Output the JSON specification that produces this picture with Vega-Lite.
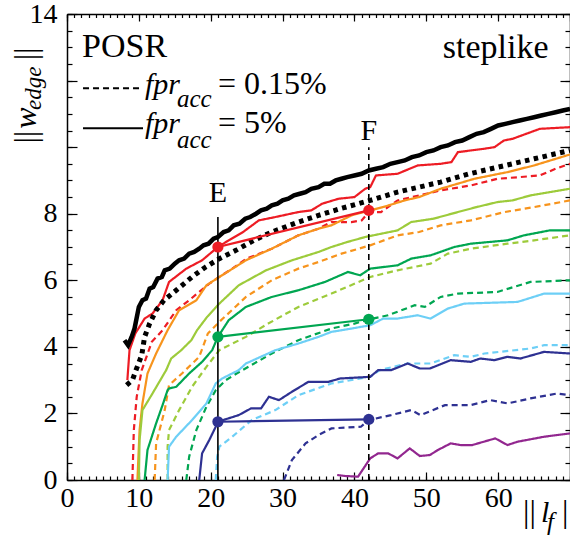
{
  "$schema": "https://vega.github.io/schema/vega-lite/v6.json",
  "width": 503,
  "height": 466,
  "autosize": {"type": "none"},
  "padding": {"left": 67, "top": 14, "right": 0, "bottom": 57},
  "background": "white",
  "config": {
    "view": {"stroke": null},
    "axis": {"domainColor": "black", "domainWidth": 1.5, "tickColor": "black", "tickWidth": 1.2, "labelFont": "Liberation Serif, DejaVu Serif, serif", "labelFontSize": 28, "labelColor": "black", "grid": false},
    "text": {"font": "Liberation Serif, DejaVu Serif, serif", "color": "black"}
  },
  "datasets": {
    "series": [
      {"g":"c1","f":"5%","x":8.4,"y":3.0},{"g":"c1","f":"5%","x":8.7,"y":3.9},{"g":"c1","f":"5%","x":9.5,"y":4.4},{"g":"c1","f":"5%","x":10.8,"y":4.85},{"g":"c1","f":"5%","x":11.9,"y":5.0},{"g":"c1","f":"5%","x":13.3,"y":5.4},{"g":"c1","f":"5%","x":14.2,"y":5.95},{"g":"c1","f":"5%","x":16.6,"y":6.35},{"g":"c1","f":"5%","x":18.8,"y":6.6},{"g":"c1","f":"5%","x":21,"y":7.0},{"g":"c1","f":"5%","x":22.5,"y":7.2},{"g":"c1","f":"5%","x":24.5,"y":7.45},{"g":"c1","f":"5%","x":26.7,"y":7.8},{"g":"c1","f":"5%","x":29,"y":7.9},{"g":"c1","f":"5%","x":32.2,"y":8.05},{"g":"c1","f":"5%","x":34,"y":8.1},{"g":"c1","f":"5%","x":35.5,"y":8.3},{"g":"c1","f":"5%","x":37.8,"y":8.45},{"g":"c1","f":"5%","x":40,"y":8.5},{"g":"c1","f":"5%","x":41.5,"y":8.75},{"g":"c1","f":"5%","x":42.2,"y":8.8},{"g":"c1","f":"5%","x":43,"y":9.15},{"g":"c1","f":"5%","x":46,"y":9.2},{"g":"c1","f":"5%","x":48.8,"y":9.45},{"g":"c1","f":"5%","x":52,"y":9.5},{"g":"c1","f":"5%","x":53.5,"y":9.55},{"g":"c1","f":"5%","x":54.4,"y":9.85},{"g":"c1","f":"5%","x":58,"y":9.95},{"g":"c1","f":"5%","x":59.5,"y":10.0},{"g":"c1","f":"5%","x":60.8,"y":10.2},{"g":"c1","f":"5%","x":62,"y":10.25},{"g":"c1","f":"5%","x":65.8,"y":10.55},{"g":"c1","f":"5%","x":70,"y":10.6},
      {"g":"c1","f":"0.15%","x":9.1,"y":0},{"g":"c1","f":"0.15%","x":9.3,"y":1.5},{"g":"c1","f":"0.15%","x":9.7,"y":2.5},{"g":"c1","f":"0.15%","x":10.4,"y":3.3},{"g":"c1","f":"0.15%","x":11.8,"y":4.15},{"g":"c1","f":"0.15%","x":13.3,"y":4.5},{"g":"c1","f":"0.15%","x":15.2,"y":5.1},{"g":"c1","f":"0.15%","x":17,"y":5.4},{"g":"c1","f":"0.15%","x":19.8,"y":5.9},{"g":"c1","f":"0.15%","x":21.2,"y":6.1},{"g":"c1","f":"0.15%","x":23,"y":6.35},{"g":"c1","f":"0.15%","x":25,"y":6.65},{"g":"c1","f":"0.15%","x":28.5,"y":6.95},{"g":"c1","f":"0.15%","x":32.2,"y":7.35},{"g":"c1","f":"0.15%","x":35,"y":7.55},{"g":"c1","f":"0.15%","x":36.8,"y":7.75},{"g":"c1","f":"0.15%","x":39.6,"y":7.75},{"g":"c1","f":"0.15%","x":41,"y":7.8},{"g":"c1","f":"0.15%","x":42,"y":8.05},{"g":"c1","f":"0.15%","x":43.7,"y":8.05},{"g":"c1","f":"0.15%","x":46,"y":8.4},{"g":"c1","f":"0.15%","x":49,"y":8.55},{"g":"c1","f":"0.15%","x":52,"y":8.7},{"g":"c1","f":"0.15%","x":56.2,"y":8.85},{"g":"c1","f":"0.15%","x":59.9,"y":9.05},{"g":"c1","f":"0.15%","x":63,"y":9.1},{"g":"c1","f":"0.15%","x":65.8,"y":9.15},{"g":"c1","f":"0.15%","x":68,"y":9.35},{"g":"c1","f":"0.15%","x":70,"y":9.5},
      {"g":"c2","f":"5%","x":9.8,"y":0},{"g":"c2","f":"5%","x":10.1,"y":1.5},{"g":"c2","f":"5%","x":10.5,"y":2.3},{"g":"c2","f":"5%","x":11.2,"y":3.2},{"g":"c2","f":"5%","x":12.4,"y":3.8},{"g":"c2","f":"5%","x":14,"y":4.5},{"g":"c2","f":"5%","x":15.6,"y":5.1},{"g":"c2","f":"5%","x":18,"y":5.4},{"g":"c2","f":"5%","x":19.4,"y":5.85},{"g":"c2","f":"5%","x":21.2,"y":6.1},{"g":"c2","f":"5%","x":24.9,"y":6.6},{"g":"c2","f":"5%","x":28.5,"y":6.95},{"g":"c2","f":"5%","x":32.2,"y":7.35},{"g":"c2","f":"5%","x":35,"y":7.55},{"g":"c2","f":"5%","x":36.8,"y":7.65},{"g":"c2","f":"5%","x":39.6,"y":7.95},{"g":"c2","f":"5%","x":42.2,"y":8.1},{"g":"c2","f":"5%","x":44,"y":8.2},{"g":"c2","f":"5%","x":47,"y":8.4},{"g":"c2","f":"5%","x":49,"y":8.5},{"g":"c2","f":"5%","x":52,"y":8.75},{"g":"c2","f":"5%","x":56.7,"y":9.05},{"g":"c2","f":"5%","x":61.3,"y":9.25},{"g":"c2","f":"5%","x":65,"y":9.45},{"g":"c2","f":"5%","x":70,"y":9.78},
      {"g":"c2","f":"0.15%","x":12.2,"y":0},{"g":"c2","f":"0.15%","x":12.4,"y":1.1},{"g":"c2","f":"0.15%","x":13.6,"y":2.1},{"g":"c2","f":"0.15%","x":14.2,"y":2.85},{"g":"c2","f":"0.15%","x":16,"y":3.2},{"g":"c2","f":"0.15%","x":18.4,"y":3.7},{"g":"c2","f":"0.15%","x":19.6,"y":4.4},{"g":"c2","f":"0.15%","x":21.2,"y":4.75},{"g":"c2","f":"0.15%","x":24.9,"y":5.5},{"g":"c2","f":"0.15%","x":28.5,"y":6.0},{"g":"c2","f":"0.15%","x":32.2,"y":6.35},{"g":"c2","f":"0.15%","x":35,"y":6.55},{"g":"c2","f":"0.15%","x":38.2,"y":6.8},{"g":"c2","f":"0.15%","x":42.2,"y":7.05},{"g":"c2","f":"0.15%","x":46,"y":7.35},{"g":"c2","f":"0.15%","x":49,"y":7.45},{"g":"c2","f":"0.15%","x":52,"y":7.65},{"g":"c2","f":"0.15%","x":56.2,"y":7.8},{"g":"c2","f":"0.15%","x":60.9,"y":8.05},{"g":"c2","f":"0.15%","x":65,"y":8.2},{"g":"c2","f":"0.15%","x":70,"y":8.4},
      {"g":"c3","f":"5%","x":10,"y":0},{"g":"c3","f":"5%","x":10.1,"y":1.2},{"g":"c3","f":"5%","x":10.5,"y":2.1},{"g":"c3","f":"5%","x":11.9,"y":2.6},{"g":"c3","f":"5%","x":13.8,"y":3.3},{"g":"c3","f":"5%","x":14.5,"y":3.65},{"g":"c3","f":"5%","x":15.9,"y":3.9},{"g":"c3","f":"5%","x":17.3,"y":4.2},{"g":"c3","f":"5%","x":18.1,"y":4.5},{"g":"c3","f":"5%","x":19.5,"y":4.9},{"g":"c3","f":"5%","x":21.2,"y":5.3},{"g":"c3","f":"5%","x":23.9,"y":5.85},{"g":"c3","f":"5%","x":27.7,"y":6.3},{"g":"c3","f":"5%","x":31.3,"y":6.6},{"g":"c3","f":"5%","x":35,"y":6.85},{"g":"c3","f":"5%","x":36.8,"y":7.0},{"g":"c3","f":"5%","x":39,"y":7.15},{"g":"c3","f":"5%","x":41.5,"y":7.3},{"g":"c3","f":"5%","x":46,"y":7.5},{"g":"c3","f":"5%","x":47.9,"y":7.75},{"g":"c3","f":"5%","x":51,"y":7.85},{"g":"c3","f":"5%","x":54.4,"y":8.05},{"g":"c3","f":"5%","x":57,"y":8.2},{"g":"c3","f":"5%","x":59.9,"y":8.35},{"g":"c3","f":"5%","x":62,"y":8.4},{"g":"c3","f":"5%","x":64.5,"y":8.55},{"g":"c3","f":"5%","x":70,"y":8.75},
      {"g":"c3","f":"0.15%","x":14,"y":0},{"g":"c3","f":"0.15%","x":14,"y":1.0},{"g":"c3","f":"0.15%","x":14.2,"y":1.5},{"g":"c3","f":"0.15%","x":15.6,"y":2.1},{"g":"c3","f":"0.15%","x":17.4,"y":2.8},{"g":"c3","f":"0.15%","x":19.4,"y":3.4},{"g":"c3","f":"0.15%","x":21.2,"y":3.9},{"g":"c3","f":"0.15%","x":24.9,"y":4.3},{"g":"c3","f":"0.15%","x":28,"y":4.7},{"g":"c3","f":"0.15%","x":32.2,"y":5.2},{"g":"c3","f":"0.15%","x":36.8,"y":5.6},{"g":"c3","f":"0.15%","x":42.2,"y":6.1},{"g":"c3","f":"0.15%","x":46,"y":6.3},{"g":"c3","f":"0.15%","x":50.6,"y":6.5},{"g":"c3","f":"0.15%","x":53,"y":6.8},{"g":"c3","f":"0.15%","x":56.2,"y":6.95},{"g":"c3","f":"0.15%","x":61.3,"y":7.1},{"g":"c3","f":"0.15%","x":65,"y":7.2},{"g":"c3","f":"0.15%","x":70,"y":7.35},
      {"g":"c4","f":"5%","x":10.8,"y":0},{"g":"c4","f":"5%","x":11.2,"y":0.9},{"g":"c4","f":"5%","x":12.4,"y":1.7},{"g":"c4","f":"5%","x":13.3,"y":2.25},{"g":"c4","f":"5%","x":14,"y":2.7},{"g":"c4","f":"5%","x":14.2,"y":2.75},{"g":"c4","f":"5%","x":15.2,"y":2.8},{"g":"c4","f":"5%","x":17,"y":3.2},{"g":"c4","f":"5%","x":18.8,"y":3.55},{"g":"c4","f":"5%","x":20.2,"y":3.9},{"g":"c4","f":"5%","x":21,"y":4.3},{"g":"c4","f":"5%","x":22.5,"y":4.8},{"g":"c4","f":"5%","x":24.9,"y":5.2},{"g":"c4","f":"5%","x":28.5,"y":5.5},{"g":"c4","f":"5%","x":32.2,"y":5.7},{"g":"c4","f":"5%","x":35.9,"y":5.95},{"g":"c4","f":"5%","x":39.1,"y":6.25},{"g":"c4","f":"5%","x":40.8,"y":6.15},{"g":"c4","f":"5%","x":42.2,"y":6.35},{"g":"c4","f":"5%","x":46,"y":6.45},{"g":"c4","f":"5%","x":47.9,"y":6.65},{"g":"c4","f":"5%","x":50.6,"y":6.75},{"g":"c4","f":"5%","x":53.9,"y":7.0},{"g":"c4","f":"5%","x":56.2,"y":7.1},{"g":"c4","f":"5%","x":61.3,"y":7.2},{"g":"c4","f":"5%","x":63.6,"y":7.35},{"g":"c4","f":"5%","x":67.2,"y":7.5},{"g":"c4","f":"5%","x":70,"y":7.5},
      {"g":"c4","f":"0.15%","x":16.6,"y":0},{"g":"c4","f":"0.15%","x":17,"y":0.7},{"g":"c4","f":"0.15%","x":18,"y":1.5},{"g":"c4","f":"0.15%","x":19.4,"y":2.2},{"g":"c4","f":"0.15%","x":20.7,"y":2.7},{"g":"c4","f":"0.15%","x":22.1,"y":3.0},{"g":"c4","f":"0.15%","x":23.6,"y":3.2},{"g":"c4","f":"0.15%","x":28.5,"y":3.8},{"g":"c4","f":"0.15%","x":32.2,"y":4.2},{"g":"c4","f":"0.15%","x":36.8,"y":4.55},{"g":"c4","f":"0.15%","x":40,"y":4.7},{"g":"c4","f":"0.15%","x":42.2,"y":4.83},{"g":"c4","f":"0.15%","x":44.7,"y":4.95},{"g":"c4","f":"0.15%","x":48.4,"y":5.25},{"g":"c4","f":"0.15%","x":49.8,"y":5.2},{"g":"c4","f":"0.15%","x":52,"y":5.5},{"g":"c4","f":"0.15%","x":54.4,"y":5.6},{"g":"c4","f":"0.15%","x":59.9,"y":5.65},{"g":"c4","f":"0.15%","x":64.5,"y":5.95},{"g":"c4","f":"0.15%","x":70,"y":6.0},
      {"g":"c5","f":"5%","x":14,"y":0},{"g":"c5","f":"5%","x":14.2,"y":1.0},{"g":"c5","f":"5%","x":15.2,"y":1.3},{"g":"c5","f":"5%","x":17.4,"y":1.8},{"g":"c5","f":"5%","x":19.4,"y":2.3},{"g":"c5","f":"5%","x":20.7,"y":2.9},{"g":"c5","f":"5%","x":21.6,"y":3.05},{"g":"c5","f":"5%","x":23.9,"y":3.3},{"g":"c5","f":"5%","x":24.9,"y":3.5},{"g":"c5","f":"5%","x":29,"y":3.9},{"g":"c5","f":"5%","x":32.2,"y":4.1},{"g":"c5","f":"5%","x":35,"y":4.3},{"g":"c5","f":"5%","x":36.8,"y":4.45},{"g":"c5","f":"5%","x":39.6,"y":4.55},{"g":"c5","f":"5%","x":42.2,"y":4.65},{"g":"c5","f":"5%","x":44,"y":4.85},{"g":"c5","f":"5%","x":46,"y":4.85},{"g":"c5","f":"5%","x":48.8,"y":4.95},{"g":"c5","f":"5%","x":50.6,"y":4.85},{"g":"c5","f":"5%","x":53,"y":5.15},{"g":"c5","f":"5%","x":55.3,"y":5.3},{"g":"c5","f":"5%","x":62.7,"y":5.35},{"g":"c5","f":"5%","x":66.4,"y":5.6},{"g":"c5","f":"5%","x":70,"y":5.6},
      {"g":"c5","f":"0.15%","x":20.7,"y":0},{"g":"c5","f":"0.15%","x":20.9,"y":0.7},{"g":"c5","f":"0.15%","x":21.2,"y":1.0},{"g":"c5","f":"0.15%","x":23,"y":1.3},{"g":"c5","f":"0.15%","x":25.7,"y":1.8},{"g":"c5","f":"0.15%","x":29,"y":2.1},{"g":"c5","f":"0.15%","x":32.2,"y":2.55},{"g":"c5","f":"0.15%","x":36.8,"y":2.9},{"g":"c5","f":"0.15%","x":42.2,"y":3.1},{"g":"c5","f":"0.15%","x":43.5,"y":3.3},{"g":"c5","f":"0.15%","x":47.4,"y":3.5},{"g":"c5","f":"0.15%","x":50.6,"y":3.5},{"g":"c5","f":"0.15%","x":53.9,"y":3.75},{"g":"c5","f":"0.15%","x":56.2,"y":3.7},{"g":"c5","f":"0.15%","x":58.1,"y":3.8},{"g":"c5","f":"0.15%","x":64.5,"y":3.95},{"g":"c5","f":"0.15%","x":66.4,"y":4.05},{"g":"c5","f":"0.15%","x":70,"y":4.05},
      {"g":"c6","f":"5%","x":18.4,"y":0},{"g":"c6","f":"5%","x":18.8,"y":0.8},{"g":"c6","f":"5%","x":19.8,"y":1.2},{"g":"c6","f":"5%","x":20.7,"y":1.6},{"g":"c6","f":"5%","x":21,"y":1.75},{"g":"c6","f":"5%","x":23.9,"y":1.95},{"g":"c6","f":"5%","x":25.6,"y":2.15},{"g":"c6","f":"5%","x":27,"y":2.15},{"g":"c6","f":"5%","x":28.1,"y":2.5},{"g":"c6","f":"5%","x":29.5,"y":2.4},{"g":"c6","f":"5%","x":31.3,"y":2.65},{"g":"c6","f":"5%","x":33.6,"y":2.95},{"g":"c6","f":"5%","x":36.4,"y":2.95},{"g":"c6","f":"5%","x":38,"y":3.05},{"g":"c6","f":"5%","x":42.2,"y":3.1},{"g":"c6","f":"5%","x":43.3,"y":3.3},{"g":"c6","f":"5%","x":45.1,"y":3.3},{"g":"c6","f":"5%","x":47.4,"y":3.5},{"g":"c6","f":"5%","x":49.1,"y":3.35},{"g":"c6","f":"5%","x":50.5,"y":3.35},{"g":"c6","f":"5%","x":53.4,"y":3.6},{"g":"c6","f":"5%","x":56.2,"y":3.55},{"g":"c6","f":"5%","x":57.5,"y":3.65},{"g":"c6","f":"5%","x":59.5,"y":3.6},{"g":"c6","f":"5%","x":61.3,"y":3.7},{"g":"c6","f":"5%","x":63.1,"y":3.65},{"g":"c6","f":"5%","x":66.4,"y":3.85},{"g":"c6","f":"5%","x":70,"y":3.8},
      {"g":"c6","f":"0.15%","x":30.2,"y":0},{"g":"c6","f":"0.15%","x":31.3,"y":0.6},{"g":"c6","f":"0.15%","x":33.2,"y":1.1},{"g":"c6","f":"0.15%","x":35,"y":1.35},{"g":"c6","f":"0.15%","x":36.8,"y":1.55},{"g":"c6","f":"0.15%","x":40.9,"y":1.6},{"g":"c6","f":"0.15%","x":42,"y":1.8},{"g":"c6","f":"0.15%","x":45.1,"y":1.95},{"g":"c6","f":"0.15%","x":47.9,"y":2.1},{"g":"c6","f":"0.15%","x":49.2,"y":1.95},{"g":"c6","f":"0.15%","x":52.6,"y":2.25},{"g":"c6","f":"0.15%","x":56.2,"y":2.25},{"g":"c6","f":"0.15%","x":58.9,"y":2.4},{"g":"c6","f":"0.15%","x":61.3,"y":2.3},{"g":"c6","f":"0.15%","x":64.5,"y":2.45},{"g":"c6","f":"0.15%","x":68.2,"y":2.6},{"g":"c6","f":"0.15%","x":70,"y":2.55},
      {"g":"c7","f":"5%","x":37.6,"y":0.15},{"g":"c7","f":"5%","x":38.7,"y":0.12},{"g":"c7","f":"5%","x":40.5,"y":0.1},{"g":"c7","f":"5%","x":42.2,"y":0.65},{"g":"c7","f":"5%","x":43.3,"y":0.8},{"g":"c7","f":"5%","x":44.7,"y":0.8},{"g":"c7","f":"5%","x":46,"y":0.65},{"g":"c7","f":"5%","x":47.7,"y":0.95},{"g":"c7","f":"5%","x":49.1,"y":0.72},{"g":"c7","f":"5%","x":50.5,"y":0.75},{"g":"c7","f":"5%","x":51.6,"y":0.9},{"g":"c7","f":"5%","x":53.4,"y":1.1},{"g":"c7","f":"5%","x":54.8,"y":1.05},{"g":"c7","f":"5%","x":56.4,"y":1.05},{"g":"c7","f":"5%","x":59.6,"y":1.25},{"g":"c7","f":"5%","x":61.3,"y":1.05},{"g":"c7","f":"5%","x":62.7,"y":1.15},{"g":"c7","f":"5%","x":66.4,"y":1.3},{"g":"c7","f":"5%","x":70,"y":1.4}
    ],
    "total": [
      {"f":"5%","x":8.0,"y":4.2},{"f":"5%","x":8.5,"y":4.05},{"f":"5%","x":9.0,"y":4.3},{"f":"5%","x":9.4,"y":4.55},{"f":"5%","x":10.0,"y":5.2},{"f":"5%","x":10.5,"y":5.4},{"f":"5%","x":11.0,"y":5.45},{"f":"5%","x":11.5,"y":5.75},{"f":"5%","x":12.0,"y":5.8},{"f":"5%","x":12.6,"y":6.05},{"f":"5%","x":13.2,"y":6.1},{"f":"5%","x":13.6,"y":6.3},{"f":"5%","x":14.3,"y":6.35},{"f":"5%","x":15.0,"y":6.5},{"f":"5%","x":15.6,"y":6.6},{"f":"5%","x":16.3,"y":6.65},{"f":"5%","x":17.0,"y":6.8},{"f":"5%","x":17.7,"y":6.85},{"f":"5%","x":18.4,"y":6.95},{"f":"5%","x":19.0,"y":7.05},{"f":"5%","x":19.7,"y":7.1},{"f":"5%","x":20.4,"y":7.25},{"f":"5%","x":21.0,"y":7.3},{"f":"5%","x":21.8,"y":7.45},{"f":"5%","x":22.5,"y":7.5},{"f":"5%","x":23.2,"y":7.65},{"f":"5%","x":24.0,"y":7.7},{"f":"5%","x":24.8,"y":7.85},{"f":"5%","x":25.5,"y":7.9},{"f":"5%","x":26.3,"y":8.0},{"f":"5%","x":27.0,"y":8.1},{"f":"5%","x":27.8,"y":8.15},{"f":"5%","x":28.5,"y":8.25},{"f":"5%","x":29.3,"y":8.3},{"f":"5%","x":30.0,"y":8.4},{"f":"5%","x":30.8,"y":8.45},{"f":"5%","x":31.6,"y":8.55},{"f":"5%","x":32.4,"y":8.6},{"f":"5%","x":33.2,"y":8.65},{"f":"5%","x":34.0,"y":8.75},{"f":"5%","x":35.0,"y":8.8},{"f":"5%","x":35.8,"y":8.9},{"f":"5%","x":36.6,"y":8.9},{"f":"5%","x":37.4,"y":9.0},{"f":"5%","x":38.2,"y":9.05},{"f":"5%","x":39.0,"y":9.1},{"f":"5%","x":40.0,"y":9.15},{"f":"5%","x":41.0,"y":9.2},{"f":"5%","x":42.0,"y":9.3},{"f":"5%","x":43.0,"y":9.35},{"f":"5%","x":44.0,"y":9.4},{"f":"5%","x":45.0,"y":9.5},{"f":"5%","x":46.0,"y":9.55},{"f":"5%","x":47.0,"y":9.6},{"f":"5%","x":48.0,"y":9.7},{"f":"5%","x":49.0,"y":9.75},{"f":"5%","x":50.0,"y":9.85},{"f":"5%","x":51.0,"y":9.9},{"f":"5%","x":52.0,"y":10.0},{"f":"5%","x":53.0,"y":10.05},{"f":"5%","x":54.0,"y":10.15},{"f":"5%","x":55.0,"y":10.2},{"f":"5%","x":56.0,"y":10.3},{"f":"5%","x":57.0,"y":10.4},{"f":"5%","x":58.0,"y":10.45},{"f":"5%","x":59.0,"y":10.55},{"f":"5%","x":60.0,"y":10.65},{"f":"5%","x":61.0,"y":10.7},{"f":"5%","x":62.0,"y":10.75},{"f":"5%","x":63.0,"y":10.8},{"f":"5%","x":64.0,"y":10.85},{"f":"5%","x":65.0,"y":10.9},{"f":"5%","x":66.0,"y":10.95},{"f":"5%","x":67.0,"y":11.0},{"f":"5%","x":68.0,"y":11.05},{"f":"5%","x":69.0,"y":11.1},{"f":"5%","x":70.0,"y":11.15},
      {"f":"0.15%","x":8.3,"y":2.85},{"f":"0.15%","x":9.1,"y":3.0},{"f":"0.15%","x":9.6,"y":3.3},{"f":"0.15%","x":10.4,"y":3.75},{"f":"0.15%","x":10.8,"y":4.3},{"f":"0.15%","x":11.5,"y":4.7},{"f":"0.15%","x":12.4,"y":5.1},{"f":"0.15%","x":13.5,"y":5.4},{"f":"0.15%","x":15.2,"y":5.7},{"f":"0.15%","x":17.4,"y":6.1},{"f":"0.15%","x":19.3,"y":6.4},{"f":"0.15%","x":21.2,"y":6.65},{"f":"0.15%","x":23.5,"y":6.9},{"f":"0.15%","x":26,"y":7.2},{"f":"0.15%","x":28.5,"y":7.45},{"f":"0.15%","x":32.2,"y":7.75},{"f":"0.15%","x":35,"y":7.95},{"f":"0.15%","x":38,"y":8.15},{"f":"0.15%","x":42.2,"y":8.4},{"f":"0.15%","x":46,"y":8.65},{"f":"0.15%","x":50,"y":8.85},{"f":"0.15%","x":52,"y":8.95},{"f":"0.15%","x":56,"y":9.2},{"f":"0.15%","x":61,"y":9.45},{"f":"0.15%","x":65,"y":9.65},{"f":"0.15%","x":70,"y":9.9}
    ],
    "pairs": [
      {"g":"c1","p":"E","x":21,"y":7.0},{"g":"c1","p":"F","x":42,"y":8.1},
      {"g":"c4","p":"E","x":21,"y":4.3},{"g":"c4","p":"F","x":42,"y":4.83},
      {"g":"c6","p":"E","x":21,"y":1.75},{"g":"c6","p":"F","x":42,"y":1.82}
    ],
    "guides": [
      {"p":"E","x":21,"y0":0,"y1":7.9},
      {"p":"F","x":42,"y0":0,"y1":10.0}
    ],
    "key": [
      {"f":"0.15%","x":2.23,"y":11.77},{"f":"0.15%","x":10.58,"y":11.77},
      {"f":"5%","x":2.23,"y":10.57},{"f":"5%","x":10.58,"y":10.57}
    ],
    "notes": [
      {"k":"head","t":"POSR","x":2.09,"y":12.71},
      {"k":"head","t":"steplike","x":52.3,"y":12.68},
      {"k":"mark","t":"E","x":21,"y":8.35},
      {"k":"mark","t":"F","x":42,"y":10.21},
      {"k":"body","t":"= 0.15%","x":21.0,"y":11.6},
      {"k":"body","t":"= 5%","x":21.0,"y":10.42},
      {"k":"body","t":"||","x":63.46,"y":-1.26},
      {"k":"body","t":"||","x":68.9,"y":-1.26},
      {"k":"ital","t":"fpr","x":10.85,"y":11.6},
      {"k":"ital","t":"fpr","x":10.85,"y":10.42},
      {"k":"ital","t":"l","x":65.96,"y":-1.26},
      {"k":"sub","t":"acc","x":15.3,"y":11.2},
      {"k":"sub","t":"acc","x":15.3,"y":9.97},
      {"k":"sub","t":"f","x":66.8,"y":-1.5},
      {"k":"rbody","t":"||","x":-4.31,"y":10.3},
      {"k":"rbody","t":"||","x":-4.31,"y":12.8},
      {"k":"rital","t":"w","x":-4.31,"y":10.87},
      {"k":"rsub","t":"edge","x":-3.62,"y":11.77}
    ]
  },
  "layer": [
    {
      "data": {"name": "series"},
      "mark": {"type": "line", "strokeWidth": 2.2, "clip": true},
      "encoding": {
        "x": {"field": "x", "type": "quantitative", "scale": {"domain": [0, 70], "nice": false, "zero": false},
              "axis": {"orient": "bottom", "values": [0,10,20,30,40,50,60], "tickSize": -8, "labelPadding": 12, "title": null, "labelFlush": false, "labelOverlap": false}},
        "y": {"field": "y", "type": "quantitative", "scale": {"domain": [0, 14], "nice": false, "zero": false},
              "axis": {"orient": "left", "values": [0,2,4,6,8,10,12,14], "tickSize": -10, "labelPadding": 20, "labelExpr": "datum.value == 10 || datum.value == 12 ? '' : datum.label", "title": null, "labelFlush": false, "labelOverlap": false}},
        "color": {"field": "g", "type": "nominal", "legend": null,
                  "scale": {"domain": ["c1","c2","c3","c4","c5","c6","c7"], "range": ["#ed1c24","#f7941d","#9dcb3b","#00a651","#6dcff6","#2e3192","#92278f"]}},
        "strokeDash": {"field": "f", "type": "nominal", "legend": null,
                       "scale": {"domain": ["5%","0.15%"], "range": [[1,0],[6,4]]}}
      }
    },
    {
      "data": {"name": "total"},
      "transform": [{"filter": "datum.f == '0.15%'"}],
      "mark": {"type": "line", "strokeWidth": 5, "color": "black", "strokeDash": [4.5, 4.5], "strokeCap": "butt", "clip": true},
      "encoding": {
        "x": {"field": "x", "type": "quantitative", "scale": {"domain": [0, 70], "nice": false, "zero": false},
              "axis": {"orient": "bottom", "values": [0,1,2,3,4,5,6,7,8,9,10,11,12,13,14,15,16,17,18,19,20,21,22,23,24,25,26,27,28,29,30,31,32,33,34,35,36,37,38,39,40,41,42,43,44,45,46,47,48,49,50,51,52,53,54,55,56,57,58,59,60,61,62,63,64,65,66,67,68,69,70], "tickSize": -4, "labels": false, "domain": false, "title": null}},
        "y": {"field": "y", "type": "quantitative", "scale": {"domain": [0, 14], "nice": false, "zero": false},
              "axis": {"orient": "left", "values": [0,0.5,1,1.5,2,2.5,3,3.5,4,4.5,5,5.5,6,6.5,7,7.5,8,8.5,9,9.5,10,10.5,11,11.5,12,12.5,13,13.5,14], "tickSize": -5, "labels": false, "domain": false, "title": null}}
      }
    },
    {
      "data": {"name": "total"},
      "transform": [{"filter": "datum.f == '5%'"}],
      "mark": {"type": "line", "strokeWidth": 4.5, "color": "black", "clip": true},
      "encoding": {
        "x": {"field": "x", "type": "quantitative", "scale": {"domain": [0, 70], "nice": false, "zero": false},
              "axis": {"orient": "top", "values": [0,10,20,30,40,50,60,70], "tickSize": -7, "labels": false, "title": null}},
        "y": {"field": "y", "type": "quantitative", "scale": {"domain": [0, 14], "nice": false, "zero": false},
              "axis": {"orient": "right", "values": [0,2,4,6,8,10,12,14], "tickSize": -10, "labels": false, "title": null}}
      }
    },
    {
      "data": {"name": "guides"},
      "mark": {"type": "rule", "color": "black", "strokeWidth": 1.6},
      "encoding": {
        "x": {"field": "x", "type": "quantitative", "scale": {"domain": [0, 70], "nice": false, "zero": false},
              "axis": {"orient": "top", "values": [0,1,2,3,4,5,6,7,8,9,10,11,12,13,14,15,16,17,18,19,20,21,22,23,24,25,26,27,28,29,30,31,32,33,34,35,36,37,38,39,40,41,42,43,44,45,46,47,48,49,50,51,52,53,54,55,56,57,58,59,60,61,62,63,64,65,66,67,68,69,70], "tickSize": -3.5, "labels": false, "domain": false, "title": null}},
        "y": {"field": "y0", "type": "quantitative", "scale": {"domain": [0, 14], "nice": false, "zero": false},
              "axis": {"orient": "right", "values": [0,0.5,1,1.5,2,2.5,3,3.5,4,4.5,5,5.5,6,6.5,7,7.5,8,8.5,9,9.5,10,10.5,11,11.5,12,12.5,13,13.5,14], "tickSize": -5, "labels": false, "domain": false, "title": null}},
        "y2": {"field": "y1"},
        "strokeDash": {"field": "p", "type": "nominal", "legend": null, "scale": {"domain": ["E","F"], "range": [[1,0],[5,4]]}}
      }
    },
    {
      "data": {"name": "pairs"},
      "mark": {"type": "line", "strokeWidth": 2.2},
      "encoding": {
        "x": {"field": "x", "type": "quantitative", "axis": null},
        "y": {"field": "y", "type": "quantitative", "axis": null},
        "color": {"field": "g", "type": "nominal", "legend": null}
      }
    },
    {
      "data": {"name": "pairs"},
      "mark": {"type": "circle", "size": 125, "opacity": 1},
      "encoding": {
        "x": {"field": "x", "type": "quantitative", "axis": null},
        "y": {"field": "y", "type": "quantitative", "axis": null},
        "color": {"field": "g", "type": "nominal", "legend": null}
      }
    },
    {
      "data": {"name": "key"},
      "mark": {"type": "line", "strokeWidth": 2, "color": "black"},
      "encoding": {
        "x": {"field": "x", "type": "quantitative", "axis": null},
        "y": {"field": "y", "type": "quantitative", "axis": null},
        "strokeDash": {"field": "f", "type": "nominal", "legend": null, "scale": {"domain": ["5%","0.15%"], "range": [[1,0],[5,3]]}}
      }
    },
    {
      "data": {"name": "notes"},
      "transform": [{"filter": "datum.k == 'head'"}],
      "mark": {"type": "text", "fontSize": 34, "baseline": "alphabetic", "align": "left"},
      "encoding": {
        "x": {"field": "x", "type": "quantitative", "axis": null},
        "y": {"field": "y", "type": "quantitative", "axis": null},
        "text": {"field": "t"}
      }
    },
    {
      "data": {"name": "notes"},
      "transform": [{"filter": "datum.k == 'mark'"}],
      "mark": {"type": "text", "fontSize": 30, "baseline": "alphabetic", "align": "center"},
      "encoding": {
        "x": {"field": "x", "type": "quantitative", "axis": null},
        "y": {"field": "y", "type": "quantitative", "axis": null},
        "text": {"field": "t"}
      }
    },
    {
      "data": {"name": "notes"},
      "transform": [{"filter": "datum.k == 'body'"}],
      "mark": {"type": "text", "fontSize": 32, "baseline": "alphabetic", "align": "left"},
      "encoding": {
        "x": {"field": "x", "type": "quantitative", "axis": null},
        "y": {"field": "y", "type": "quantitative", "axis": null},
        "text": {"field": "t"}
      }
    },
    {
      "data": {"name": "notes"},
      "transform": [{"filter": "datum.k == 'ital'"}],
      "mark": {"type": "text", "fontSize": 30, "fontStyle": "italic", "baseline": "alphabetic", "align": "left"},
      "encoding": {
        "x": {"field": "x", "type": "quantitative", "axis": null},
        "y": {"field": "y", "type": "quantitative", "axis": null},
        "text": {"field": "t"}
      }
    },
    {
      "data": {"name": "notes"},
      "transform": [{"filter": "datum.k == 'sub'"}],
      "mark": {"type": "text", "fontSize": 25, "fontStyle": "italic", "baseline": "alphabetic", "align": "left"},
      "encoding": {
        "x": {"field": "x", "type": "quantitative", "axis": null},
        "y": {"field": "y", "type": "quantitative", "axis": null},
        "text": {"field": "t"}
      }
    },
    {
      "data": {"name": "notes"},
      "transform": [{"filter": "datum.k == 'rbody'"}],
      "mark": {"type": "text", "fontSize": 32, "angle": 270, "baseline": "alphabetic", "align": "center"},
      "encoding": {
        "x": {"field": "x", "type": "quantitative", "axis": null},
        "y": {"field": "y", "type": "quantitative", "axis": null},
        "text": {"field": "t"}
      }
    },
    {
      "data": {"name": "notes"},
      "transform": [{"filter": "datum.k == 'rital'"}],
      "mark": {"type": "text", "fontSize": 32, "fontStyle": "italic", "angle": 270, "baseline": "alphabetic", "align": "center"},
      "encoding": {
        "x": {"field": "x", "type": "quantitative", "axis": null},
        "y": {"field": "y", "type": "quantitative", "axis": null},
        "text": {"field": "t"}
      }
    },
    {
      "data": {"name": "notes"},
      "transform": [{"filter": "datum.k == 'rsub'"}],
      "mark": {"type": "text", "fontSize": 23, "fontStyle": "italic", "angle": 270, "baseline": "alphabetic", "align": "center"},
      "encoding": {
        "x": {"field": "x", "type": "quantitative", "axis": null},
        "y": {"field": "y", "type": "quantitative", "axis": null},
        "text": {"field": "t"}
      }
    }
  ],
  "resolve": {"axis": {"x": "independent", "y": "independent"}}
}
